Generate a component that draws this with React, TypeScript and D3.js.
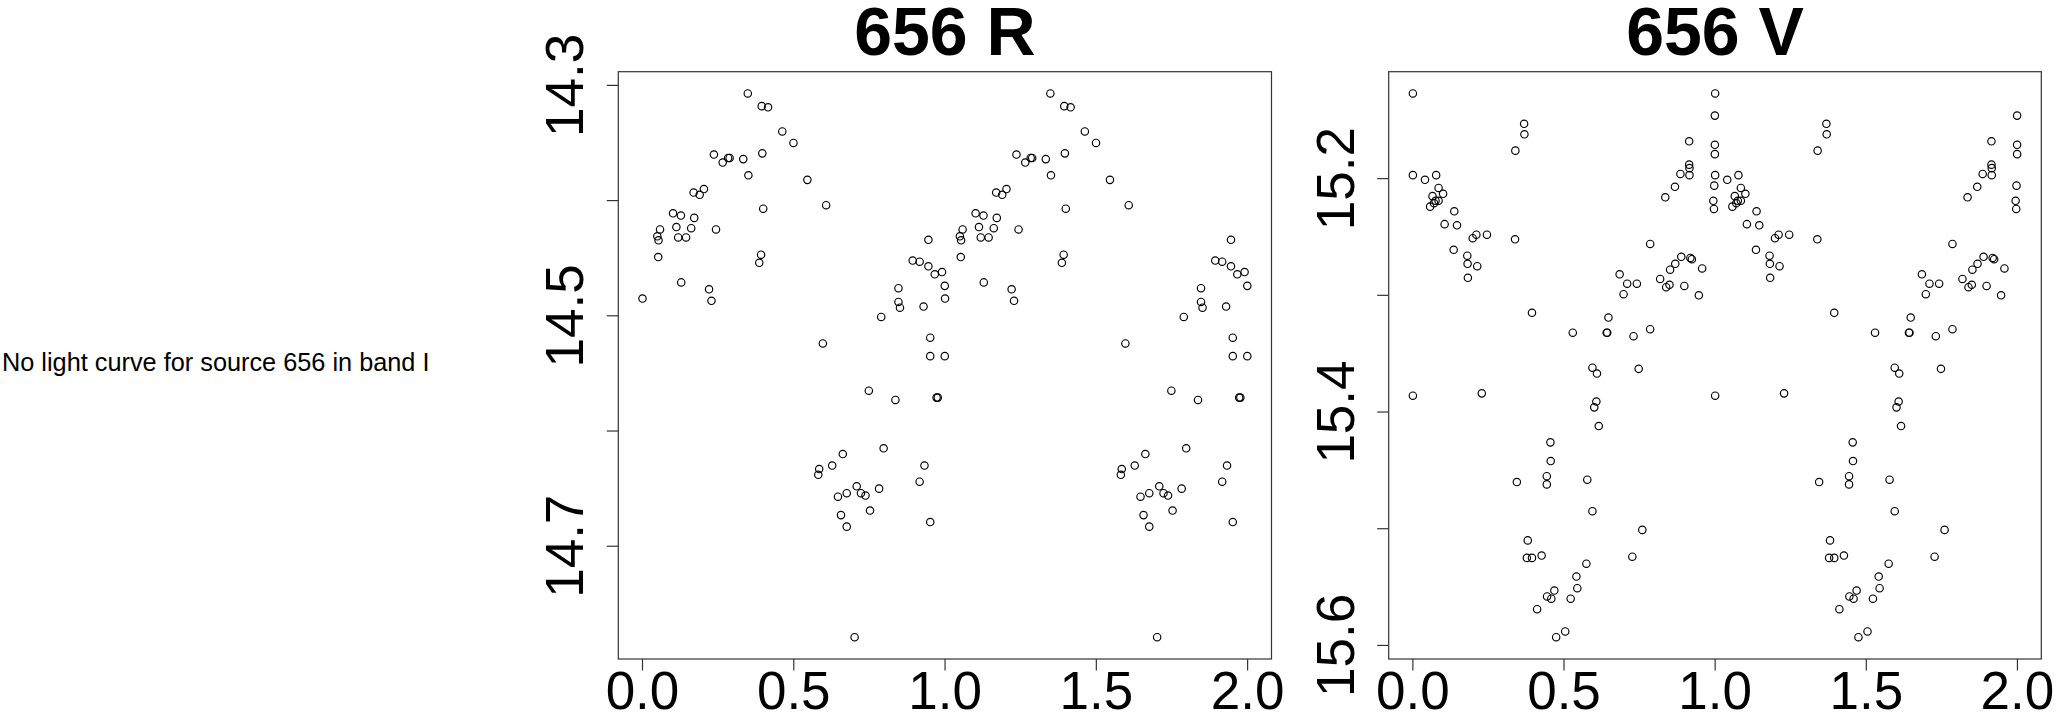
import React from 'react';
import * as d3 from 'd3';

// R band: folded phase (0..1) and magnitude; each point is drawn at phase and phase + 1
const R_PHASE = [
  0.000, 0.049, 0.053, 0.058, 0.052, 0.101, 0.127, 0.112, 0.118, 0.144,
  0.161, 0.171, 0.128, 0.169, 0.189, 0.203, 0.243, 0.220, 0.228, 0.236,
  0.265, 0.283, 0.288, 0.333, 0.350, 0.348, 0.394, 0.415, 0.396, 0.399,
  0.392, 0.386, 0.462, 0.499, 0.545, 0.607, 0.596, 0.789, 0.846, 0.846,
  0.851, 0.929, 0.893, 0.916, 0.945, 0.966, 0.990, 0.999, 0.945, 0.951,
  0.951, 0.999, 0.748, 0.836, 0.972, 0.976, 0.797, 0.662, 0.584, 0.581,
  0.627, 0.932, 0.916, 0.708, 0.675, 0.722, 0.737, 0.646, 0.782, 0.656,
  0.752, 0.675, 0.951, 0.701,
];
const R_MAG = [
  14.485, 14.431, 14.4345, 14.425, 14.449, 14.411, 14.413, 14.423, 14.432, 14.432,
  14.424, 14.415, 14.471, 14.393, 14.395, 14.390, 14.425, 14.477, 14.487, 14.360,
  14.367, 14.363, 14.363, 14.364, 14.378, 14.307, 14.318, 14.319, 14.359, 14.407,
  14.447, 14.454, 14.340, 14.350, 14.382, 14.404, 14.524, 14.501, 14.476, 14.488,
  14.493, 14.492, 14.452, 14.453, 14.457, 14.464, 14.462, 14.474, 14.434, 14.519,
  14.535, 14.535, 14.565, 14.573, 14.571, 14.571, 14.615, 14.620, 14.633, 14.638,
  14.630, 14.630, 14.644, 14.648, 14.654, 14.654, 14.656, 14.657, 14.650, 14.673,
  14.669, 14.683, 14.679, 14.779,
];

// V band
const V_PHASE = [
  0.000, 0.000, 0.040, 0.077, 0.085, 0.100, 0.065, 0.075, 0.085, 0.070,
  0.057, 0.137, 0.105, 0.146, 0.135, 0.180, 0.181, 0.213, 0.182, 0.198,
  0.210, 0.245, 0.339, 0.368, 0.369, 0.338, 0.394, 0.529, 0.641, 0.643,
  0.647, 0.730, 0.785, 0.684, 0.709, 0.741, 0.697, 0.785, 0.818, 0.838,
  0.849, 0.898, 0.851, 0.868, 0.888, 0.918, 0.923, 0.957, 0.946, 0.835,
  0.867, 0.885, 0.914, 0.915, 0.915, 0.914, 0.999, 0.999, 0.999, 0.997,
  0.994, 0.996, 0.000, 0.228, 0.344, 0.455, 0.456, 0.443, 0.443, 0.577,
  0.594, 0.609, 0.607, 0.600, 0.615, 0.594, 0.747, 0.759, 0.726, 0.380,
  0.377, 0.394, 0.426, 0.574, 0.541, 0.544, 0.468, 0.444, 0.458, 0.522,
  0.411, 0.504, 0.474,
];
const V_MAG = [
  15.127, 15.197, 15.201, 15.197, 15.208, 15.213, 15.215, 15.219, 15.219, 15.221,
  15.224, 15.228, 15.239, 15.240, 15.261, 15.266, 15.273, 15.275, 15.285, 15.251,
  15.248, 15.248, 15.176, 15.153, 15.162, 15.252, 15.315, 15.332, 15.332, 15.332,
  15.319, 15.335, 15.329, 15.282, 15.290, 15.290, 15.299, 15.256, 15.286, 15.293,
  15.291, 15.292, 15.278, 15.273, 15.267, 15.268, 15.269, 15.277, 15.300, 15.216,
  15.207, 15.196, 15.188, 15.191, 15.197, 15.168, 15.146, 15.171, 15.179, 15.206,
  15.219, 15.226, 15.386, 15.384, 15.460, 15.426, 15.442, 15.455, 15.462, 15.458,
  15.362, 15.367, 15.391, 15.396, 15.412, 15.485, 15.363, 15.501, 15.524, 15.510,
  15.525, 15.525, 15.523, 15.530, 15.541, 15.551, 15.553, 15.558, 15.560, 15.560,
  15.569, 15.588, 15.593,
];

const X_TICKS = [0, 0.5, 1, 1.5, 2];
const X_LABELS = ['0.0', '0.5', '1.0', '1.5', '2.0'];
const R_Y_TICKS = [14.3, 14.4, 14.5, 14.6, 14.7];
const R_Y_LABELS = ['14.3', '', '14.5', '', '14.7'];
const V_Y_TICKS = [15.2, 15.3, 15.4, 15.5, 15.6];
const V_Y_LABELS = ['15.2', '', '15.4', '', '15.6'];
const R_TITLE = '656 R';
const V_TITLE = '656 V';
const NO_DATA_TEXT = 'No light curve for source 656 in band I';

const FONT = '"Liberation Sans", Arial, Helvetica, sans-serif';

function padded(ext: [number, number]): [number, number] {
  const d = (ext[1] - ext[0]) * 0.04;
  return [ext[0] - d, ext[1] + d];
}

type PanelProps = {
  title: string;
  phase: number[];
  mag: number[];
  yTicks: number[];
  yLabels: string[];
  left: number;
  right: number;
};

function Panel({ title, phase, mag, yTicks, yLabels, left, right }: PanelProps) {
  const top = 71.7;
  const bottom = 659;
  const pts = phase.flatMap((p, i) => [
    { x: p, y: mag[i] },
    { x: p + 1, y: mag[i] },
  ]);
  const x = d3
    .scaleLinear()
    .domain(padded(d3.extent(pts, (d) => d.x) as [number, number]))
    .range([left, right]);
  const y = d3
    .scaleLinear()
    .domain(padded(d3.extent(pts, (d) => d.y) as [number, number]))
    .range([top, bottom]);
  const tickLen = 11.5;
  return (
    <g>
      <text
        x={(left + right) / 2}
        y={55}
        textAnchor="middle"
        fontFamily={FONT}
        fontWeight="bold"
        fontSize={68}
        fill="#000"
      >
        {title}
      </text>
      <rect
        x={left}
        y={top}
        width={right - left}
        height={bottom - top}
        fill="none"
        stroke="#333"
        strokeWidth={1.2}
      />
      {pts.map((d, i) => (
        <circle
          key={i}
          cx={x(d.x)}
          cy={y(d.y)}
          r={3.7}
          fill="none"
          stroke="#000"
          strokeWidth={1.15}
        />
      ))}
      {X_TICKS.map((t, i) => (
        <g key={'x' + i}>
          <line x1={x(t)} x2={x(t)} y1={bottom} y2={bottom + tickLen} stroke="#333" strokeWidth={1.2} />
          <text
            x={x(t)}
            y={709}
            textAnchor="middle"
            fontFamily={FONT}
            fontSize={53}
            fill="#000"
          >
            {X_LABELS[i]}
          </text>
        </g>
      ))}
      {yTicks.map((t, i) => (
        <g key={'y' + i}>
          <line x1={left - tickLen} x2={left} y1={y(t)} y2={y(t)} stroke="#333" strokeWidth={1.2} />
          {yLabels[i] && (
            <text
              transform={`translate(${left - 35},${y(t)}) rotate(-90)`}
              textAnchor="middle"
              fontFamily={FONT}
              fontSize={53}
              fill="#000"
            >
              {yLabels[i]}
            </text>
          )}
        </g>
      ))}
    </g>
  );
}

export default function App() {
  return (
    <svg
      width={2056}
      height={713}
      style={{ position: 'absolute', left: 0, top: 0, background: '#fff' }}
    >
      <rect x={0} y={0} width={2056} height={713} fill="#fff" />
      <text x={2} y={371} fontFamily={FONT} fontSize={25.3} fill="#000">
        {NO_DATA_TEXT}
      </text>
      <Panel
        title={R_TITLE}
        phase={R_PHASE}
        mag={R_MAG}
        yTicks={R_Y_TICKS}
        yLabels={R_Y_LABELS}
        left={618.3}
        right={1271.5}
      />
      <Panel
        title={V_TITLE}
        phase={V_PHASE}
        mag={V_MAG}
        yTicks={V_Y_TICKS}
        yLabels={V_Y_LABELS}
        left={1388.7}
        right={2041.3}
      />
    </svg>
  );
}
